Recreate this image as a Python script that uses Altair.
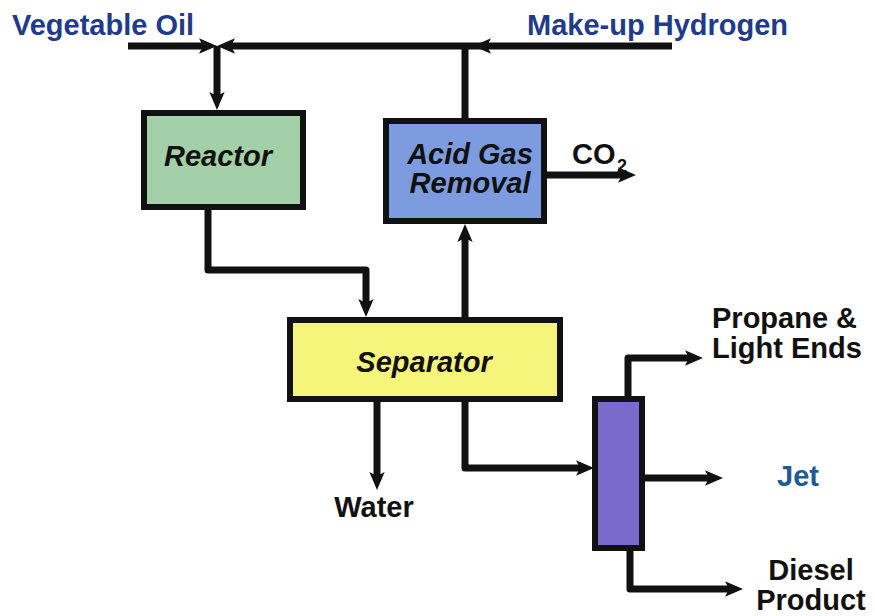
import altair as alt
import pandas as pd

# ---------------- data (reference pixel coordinates) ----------------
# process units: border-centre coordinates
box_name = ["Reactor", "Acid Gas Removal", "Separator", "Column"]
box_x0 = [144, 386, 290, 595]
box_x1 = [303, 544, 560, 642]
box_y0 = [113, 121, 320, 399]
box_y1 = [207, 221, 399, 548]
box_fill = ["#a3d0a6", "#7d9ce0", "#f5f57c", "#7a6acb"]

# pipes: each a polyline
pipe_name = ["veg_oil", "hydrogen", "to_reactor", "recycle", "reactor_out",
             "to_agr", "co2", "water", "to_column", "light_ends", "jet", "diesel"]
pipe_xs = [[128, 205], [672, 229], [217, 217], [465, 465],
           [208, 208, 366, 366], [465, 465], [544, 624], [377, 377],
           [465, 465, 582], [628, 628, 691], [642, 711], [630, 630, 731]]
pipe_ys = [[46, 46], [46, 46], [46, 98], [121, 46],
           [207, 270, 270, 305], [320, 236], [175, 175], [399, 478],
           [399, 468, 468], [399, 358, 358], [478, 478], [548, 589, 589]]

# arrowheads: tip position and direction (degrees clockwise from east)
arrow_x = [217, 217, 473, 217, 366, 465, 636, 377, 594, 703, 723, 743]
arrow_y = [46, 46, 46, 110, 317, 224, 175, 490, 468, 358, 478, 589]
arrow_dir = [0, 180, 180, 90, 90, 270, 0, 90, 0, 0, 0, 0]

# labels inside units (bold italic, centred)
unit_text = ["Reactor", "Acid Gas", "Removal", "Separator"]
unit_x = [218, 470, 470, 424]
unit_y = [166, 164, 193, 372]

# stream labels, centred
cen_text = ["Water", "Diesel", "Product"]
cen_x = [374, 811, 811]
cen_y = [517, 580, 610]
cen_color = ["#111111", "#111111", "#111111"]

# stream labels, left aligned
left_text = ["Vegetable Oil", "Make-up Hydrogen", "CO", "Propane &", "Light Ends", "Jet"]
left_x = [12, 527, 572, 712, 712, 777]
left_y = [35, 35, 164, 328, 358, 486]
left_color = ["#1f3b8c", "#1f3b8c", "#111111", "#111111", "#111111", "#205a94"]
left_size = [29, 29, 29, 29, 29, 29]

sub_text = ["2"]
sub_x = [617]
sub_y = [172]

# ---------------- tables ----------------
boxes = pd.DataFrame(dict(name=box_name, x=box_x0, x2=box_x1, y=box_y0, y2=box_y1, fill=box_fill))
rows = []
for n, xs_, ys_ in zip(pipe_name, pipe_xs, pipe_ys):
    for i, (px, py) in enumerate(zip(xs_, ys_)):
        rows.append(dict(pipe=n, seq=i, x=px, y=py))
pipes = pd.DataFrame(rows)
arrows = pd.DataFrame(dict(x=arrow_x, y=arrow_y, angle=arrow_dir))
units = pd.DataFrame(dict(text=unit_text, x=unit_x, y=unit_y))
cen = pd.DataFrame(dict(text=cen_text, x=cen_x, y=cen_y, color=cen_color))
left = pd.DataFrame(dict(text=left_text, x=left_x, y=left_y, color=left_color, size=left_size))
sub = pd.DataFrame(dict(text=sub_text, x=sub_x, y=sub_y))

W, H = 859, 608
xs = alt.Scale(domain=[8, 8 + W], nice=False, zero=False)
ys = alt.Scale(domain=[8, 8 + H], nice=False, zero=False, reverse=True)
X = lambda f="x": alt.X(f"{f}:Q", scale=xs, axis=None)
Y = lambda f="y": alt.Y(f"{f}:Q", scale=ys, axis=None)
FONT = "Liberation Sans"

pipe_layer = alt.Chart(pipes).mark_line(
    color="#111111", strokeWidth=7, strokeJoin="round", strokeCap="butt"
).encode(x=X(), y=Y(), detail="pipe:N", order="seq:Q")

box_layer = alt.Chart(boxes).mark_rect(stroke="#111111", strokeWidth=6).encode(
    x=X(), x2="x2:Q", y=Y(), y2="y2:Q",
    fill=alt.Fill("fill:N", scale=None),
)

arrow_layer = alt.Chart(arrows).mark_point(
    shape="M0,0 L-2,-0.85 L-1.55,0 L-2,0.85 Z", filled=True, color="#111111",
    opacity=1, size=324, strokeWidth=0,
).encode(x=X(), y=Y(), angle=alt.Angle("angle:Q", scale=None))

unit_layer = alt.Chart(units).mark_text(
    font=FONT, fontSize=29, fontWeight="bold", fontStyle="italic",
    align="center", baseline="alphabetic", color="#111111",
).encode(x=X(), y=Y(), text="text:N")

cen_layer = alt.Chart(cen).mark_text(
    font=FONT, fontSize=29, fontWeight="bold", align="center", baseline="alphabetic",
).encode(x=X(), y=Y(), text="text:N", color=alt.Color("color:N", scale=None))

left_layer = alt.Chart(left).mark_text(
    font=FONT, fontWeight="bold", align="left", baseline="alphabetic",
).encode(x=X(), y=Y(), text="text:N", color=alt.Color("color:N", scale=None),
         size=alt.Size("size:Q", scale=None))

sub_layer = alt.Chart(sub).mark_text(
    font=FONT, fontSize=18, fontWeight="bold", align="left", baseline="alphabetic", color="#111111",
).encode(x=X(), y=Y(), text="text:N")

chart = alt.layer(
    pipe_layer, box_layer, arrow_layer, unit_layer, cen_layer, left_layer, sub_layer
).properties(
    width=W, height=H, padding=0, background="white",
    autosize=alt.AutoSizeParams(type="none"),
).configure_view(stroke=None)

chart.save("out.html", embed_options={"renderer": "svg", "actions": False})
